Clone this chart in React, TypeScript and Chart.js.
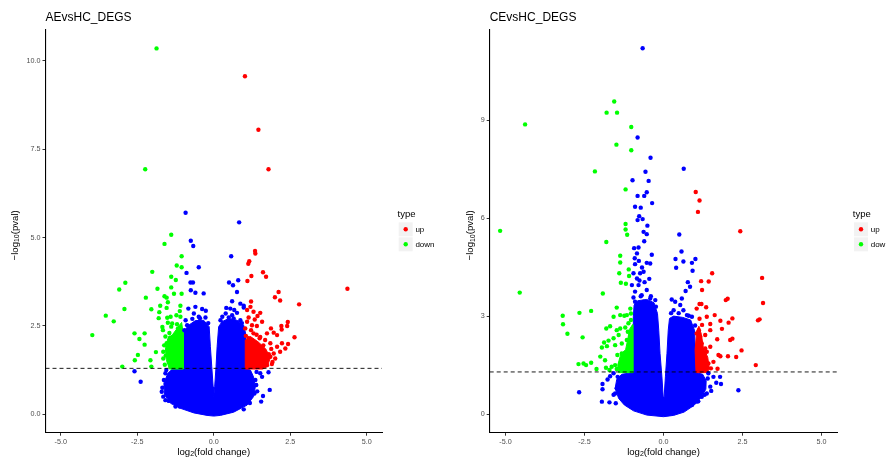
import React, { useEffect, useRef } from "react";
import { Chart, registerables } from "chart.js";
Chart.register(...registerables);

type Pt = [number, number];

// ---------- axes ----------
const X_MIN = -5.5;
const X_MAX = 5.5;
const X_TICKS = [-5, -2.5, 0, 2.5, 5];
const X_TICK_LABELS = ["-5.0", "-2.5", "0.0", "2.5", "5.0"];
const AE_Y_RANGE = [-0.52, 10.87];
const AE_Y_TICKS = [0, 2.5, 5, 7.5, 10];
const AE_Y_TICK_LABELS = ["0.0", "2.5", "5.0", "7.5", "10.0"];
const CE_Y_RANGE = [-0.56, 11.77];
const CE_Y_TICKS = [0, 3, 6, 9];
const CE_Y_TICK_LABELS = ["0", "3", "6", "9"];
const P_CUTOFF_LINE = 1.3; // -log10(0.05)
const LEGEND_TITLE = "type";
const LEGEND_LABELS = ["up", "down"];

// ---------- AEvsHC ----------
const AE_UP: Pt[] = [
  [1.02, 9.56], [1.46, 8.05], [1.79, 6.93], [4.37, 3.55],
  [1.35, 4.62], [1.36, 4.55], [1.16, 4.33], [1.13, 4.26], [1.61, 4.02], [1.71, 3.89],
  [1.23, 3.91], [1.10, 3.77], [2.12, 3.46], [2.00, 3.31], [2.17, 3.22], [2.79, 3.11],
  [1.22, 3.19], [1.20, 3.04], [1.09, 2.95], [1.30, 2.90], [1.52, 2.87], [1.43, 2.78],
  [1.14, 2.74], [1.34, 2.68], [1.09, 2.62], [1.58, 2.62], [1.25, 2.52], [1.41, 2.50],
  [1.03, 2.43], [2.42, 2.61], [2.40, 2.50], [2.21, 2.50], [2.22, 2.40], [1.87, 2.43],
  [1.96, 2.31], [2.07, 2.24], [1.74, 2.29], [2.64, 2.18], [2.43, 1.99], [2.23, 2.01],
  [2.07, 1.91], [1.85, 2.01], [1.68, 2.10], [1.52, 2.19], [1.30, 2.29], [1.14, 2.15],
  [1.65, 1.53], [1.85, 1.63], [1.96, 1.72], [1.74, 1.39], [1.52, 1.35], [2.01, 1.58],
  [1.90, 1.42], [2.17, 1.77], [2.34, 1.86], [1.88, 1.85], [1.60, 1.80], [1.40, 2.25],
  [1.05, 2.22], [1.50, 2.15], [1.80, 1.70], [1.92, 1.48], [1.62, 1.95], [1.22, 2.38],
];
const AE_DOWN: Pt[] = [
  [-1.87, 10.35], [-2.24, 6.93],
  [-1.39, 5.08], [-1.61, 4.82], [-1.05, 4.47], [-1.21, 4.21], [-1.05, 4.16], [-2.01, 4.03],
  [-1.39, 3.89], [-1.24, 3.80], [-2.89, 3.72], [-3.09, 3.53], [-1.84, 3.55], [-1.39, 3.59],
  [-1.05, 3.41], [-1.30, 3.41], [-2.22, 3.30], [-1.61, 3.34], [-1.54, 3.30], [-1.50, 3.17],
  [-1.75, 3.07], [-1.09, 3.07], [-2.92, 2.98], [-2.04, 2.97], [-1.54, 3.01], [-1.11, 2.92],
  [-1.78, 2.89], [-3.53, 2.79], [-1.80, 2.72], [-1.52, 2.73], [-1.41, 2.76], [-1.22, 2.80],
  [-1.09, 2.76], [-3.27, 2.63], [-1.50, 2.59], [-1.36, 2.57], [-1.20, 2.55], [-1.39, 2.48],
  [-1.68, 2.47], [-1.66, 2.38], [-1.17, 2.43], [-3.97, 2.24], [-2.59, 2.29], [-2.26, 2.29],
  [-2.43, 2.13], [-2.26, 1.97], [-1.43, 2.17], [-1.30, 2.15], [-1.16, 2.18], [-1.09, 2.10],
  [-1.54, 2.01], [-1.36, 2.02], [-1.20, 1.98], [-1.65, 1.77], [-1.50, 1.80], [-1.28, 1.82],
  [-1.09, 1.72], [-1.57, 1.66], [-1.41, 1.65], [-1.20, 1.63], [-1.89, 1.76], [-2.07, 1.53],
  [-2.48, 1.68], [-2.58, 1.53], [-1.65, 1.58], [-2.04, 1.35], [-2.99, 1.35], [-1.47, 1.49],
  [-1.30, 1.44], [-1.14, 1.42], [-1.41, 1.37], [-1.60, 1.40], [-1.62, 1.95], [-1.45, 2.30],
  [-1.58, 2.20],
];
const AE_NS: Pt[] = [
  [-0.92, 5.70], [0.83, 5.43], [-0.75, 4.91], [-0.67, 4.76], [0.57, 4.47], [-0.49, 4.16],
  [-0.89, 4.00], [-0.76, 3.73], [-0.68, 3.73], [0.80, 3.79], [0.50, 3.73], [0.63, 3.65],
  [-0.75, 3.51], [-0.60, 3.44], [-0.33, 3.42], [0.76, 3.46], [0.60, 3.20], [0.87, 3.13],
  [0.98, 3.07], [-0.83, 2.99], [-0.60, 3.04], [-0.38, 2.98], [-0.26, 2.93], [-0.65, 2.85],
  [-0.49, 2.76], [-0.27, 2.74], [0.41, 3.01], [0.54, 2.99], [0.67, 2.95], [0.76, 2.87],
  [0.98, 3.02], [0.39, 2.85], [0.49, 2.74], [0.65, 2.71], [0.87, 2.66], [0.22, 2.66],
  [0.33, 2.52], [-0.92, 2.66], [-0.87, 2.52], [-0.96, 2.38], [-0.32, 2.43],
  [-0.70, 2.70], [-0.45, 2.72], [-0.18, 2.58], [0.28, 2.76], [0.60, 2.80], [0.92, 2.58],
  [-2.59, 1.22], [-2.39, 0.92], [-1.70, 0.64], [-1.65, 0.50], [-1.58, 0.40], [-1.47, 0.38],
  [-1.63, 0.97], [-1.54, 0.83], [-1.50, 0.69], [-1.41, 0.55], [-1.30, 0.59], [-1.11, 0.22],
  [-1.58, 1.16], [-1.47, 1.06], [1.55, 0.36], [1.83, 0.69], [1.61, 0.52], [1.79, 1.19],
  [1.52, 1.16], [1.58, 1.06], [1.39, 0.83], [1.33, 0.59], [0.98, 0.14], [1.36, 0.97],
  [-1.68, 0.75], [-1.55, 1.25], [-1.25, 0.22], [1.40, 1.20], [1.42, 0.65], [1.18, 0.32],
];
// outlines of the densely packed (overplotted) regions
const AE_NS_CORE: Pt[] = [
  [-0.98, 2.34], [-0.82, 2.52], [-0.60, 2.65], [-0.33, 2.66], [-0.15, 2.48], [-0.11, 1.91],
  [-0.065, 1.35], [-0.02, 0.78], [0, 0.5], [0.03, 0.78], [0.075, 1.35], [0.11, 1.91],
  [0.16, 2.48], [0.27, 2.62], [0.49, 2.71], [0.76, 2.66], [0.98, 2.52], [1.04, 2.29],
  [1.04, 1.82], [1.03, 1.30], [1.20, 1.25], [1.30, 1.06], [1.36, 0.78], [1.30, 0.50],
  [1.09, 0.26], [0.65, 0.06], [0.22, -0.03], [0, -0.05], [-0.22, -0.03], [-0.65, 0.04],
  [-1.09, 0.17], [-1.41, 0.31], [-1.61, 0.55], [-1.63, 0.88], [-1.50, 1.16], [-1.33, 1.30],
  [-1.03, 1.30], [-1.0, 1.82],
];
const AE_DOWN_CORE: Pt[] = [
  [-1.0, 1.28], [-1.45, 1.28], [-1.55, 1.55], [-1.58, 1.85], [-1.5, 2.15], [-1.35, 2.25],
  [-1.18, 2.45], [-1.05, 2.6], [-1.0, 2.3],
];
const AE_UP_CORE: Pt[] = [
  [1.03, 1.28], [1.03, 2.1], [1.2, 2.2], [1.45, 2.05], [1.7, 1.85], [1.85, 1.6],
  [1.75, 1.35], [1.6, 1.28],
];

// ---------- CEvsHC ----------
const CE_UP: Pt[] = [
  [1.02, 6.81], [1.14, 6.55], [1.09, 6.20], [2.43, 5.61], [1.54, 4.32], [1.19, 4.08],
  [1.43, 4.07], [3.12, 4.18], [1.22, 3.81], [2.03, 3.54], [1.97, 3.50], [3.15, 3.41],
  [1.14, 3.38], [1.20, 3.38], [1.05, 3.24], [1.35, 3.28], [1.62, 3.04], [1.80, 2.87],
  [2.18, 2.94], [2.06, 2.81], [3.04, 2.91], [2.99, 2.88], [1.37, 2.99], [1.14, 2.93],
  [1.22, 2.74], [1.48, 2.77], [1.85, 2.62], [1.05, 2.48], [1.16, 2.38], [1.32, 2.43],
  [1.12, 2.58], [1.48, 2.58], [1.70, 2.30], [2.18, 2.32], [2.11, 2.28], [1.21, 2.17],
  [1.32, 2.02], [1.48, 2.07], [2.47, 1.96], [1.74, 1.82], [1.80, 1.78], [2.04, 1.78],
  [2.30, 1.76], [1.37, 1.92], [1.11, 1.87], [1.16, 1.77], [2.92, 1.51], [1.71, 1.40],
  [1.27, 1.66], [1.42, 1.56], [1.50, 1.41], [1.32, 1.36], [1.58, 1.61],
];
const CE_DOWN: Pt[] = [
  [-1.56, 9.58], [-1.80, 9.24], [-1.47, 9.24], [-4.38, 8.88], [-1.02, 8.80], [-1.49, 8.26],
  [-1.02, 8.09], [-2.17, 7.44], [-1.20, 6.89], [-1.20, 5.83], [-5.17, 5.62], [-1.20, 5.66],
  [-1.15, 5.50], [-1.81, 5.28], [-1.37, 4.86], [-1.37, 4.65], [-1.10, 4.44], [-1.40, 4.32],
  [-1.09, 4.24], [-1.35, 4.03], [-1.19, 4.00], [-4.55, 3.73], [-1.92, 3.70], [-2.66, 3.11],
  [-2.29, 3.17], [-3.19, 3.02], [-3.18, 2.76], [-3.04, 2.47], [-2.56, 2.36], [-1.48, 3.27],
  [-1.58, 2.99], [-1.37, 3.04], [-1.24, 3.02], [-1.16, 3.04], [-1.05, 3.24], [-1.03, 3.09],
  [-1.81, 2.63], [-1.69, 2.70], [-1.48, 2.58], [-1.37, 2.63], [-1.21, 2.66], [-1.13, 2.53],
  [-1.42, 2.43], [-1.58, 2.33], [-1.74, 2.26], [-1.88, 2.20], [-1.95, 2.05], [-1.79, 2.09],
  [-1.53, 2.12], [-1.32, 2.17], [-1.16, 2.28], [-1.05, 2.38], [-2.00, 1.77], [-1.85, 1.66],
  [-1.64, 1.46], [-1.71, 1.36], [-1.53, 1.51], [-1.37, 1.56], [-1.46, 1.82], [-1.32, 1.87],
  [-1.21, 1.77], [-1.16, 1.61], [-1.27, 1.41], [-1.48, 1.39], [-2.69, 1.54], [-2.53, 1.56],
  [-2.45, 1.51], [-2.29, 1.58], [-2.12, 1.39], [-1.82, 1.43], [-1.11, 1.92], [-1.05, 2.07],
  [-1.03, 2.89], [-1.11, 2.79],
];
const CE_NS: Pt[] = [
  [-0.66, 11.21], [-0.82, 8.48], [-0.41, 7.86], [0.64, 7.52], [-0.57, 7.43], [-0.98, 7.17],
  [-0.47, 7.15], [-0.82, 6.69], [-0.61, 6.69], [-0.53, 6.80], [-0.36, 6.47], [-0.90, 6.36],
  [-0.72, 6.33], [-0.77, 6.07], [-0.82, 5.95], [-0.66, 5.98], [-0.51, 5.78], [-0.63, 5.59],
  [-0.53, 5.52], [-0.61, 5.30], [0.50, 5.51], [-0.79, 5.11], [-0.93, 5.09], [-0.84, 4.93],
  [-0.37, 4.89], [-0.91, 4.78], [-0.53, 4.64], [-0.42, 4.62], [-0.90, 4.60], [0.57, 4.99],
  [0.38, 4.76], [0.63, 4.68], [0.90, 4.64], [1.01, 4.76], [0.40, 4.49], [0.92, 4.40],
  [-0.95, 4.32], [-0.74, 4.32], [-0.63, 4.37], [-0.84, 4.16], [-1.00, 3.96], [-0.79, 3.96],
  [-0.53, 3.81], [-0.90, 3.76], [-0.69, 3.65], [-0.42, 3.55], [-0.90, 3.45], [-0.63, 3.45],
  [-0.26, 3.50], [-0.74, 3.30], [-0.53, 3.24], [-0.32, 3.19], [-0.76, 4.10], [-0.60, 4.05],
  [-0.45, 4.15], [-0.68, 4.50], [-0.78, 4.70],
  [-0.95, 3.58], [-0.72, 3.62], [-0.40, 3.62], [-0.24, 3.30],
  [0.77, 4.05], [0.84, 3.91], [0.70, 3.78], [0.58, 3.55], [0.26, 3.52], [0.37, 3.45],
  [0.53, 3.35], [0.63, 3.19], [0.32, 3.19], [0.74, 3.04], [0.90, 2.99],
  [0.24, 3.10], [0.48, 3.10], [0.80, 3.02], [1.00, 2.72],
  [-2.67, 0.68], [2.37, 0.74], [-1.93, 0.93], [-1.93, 0.77], [-1.77, 1.07], [-1.69, 1.17],
  [-1.58, 1.26], [-1.95, 0.39], [-1.71, 0.37], [-1.51, 0.34], [-1.53, 0.64], [-1.48, 0.80],
  [-1.37, 1.05], [-1.16, 0.34], [-1.00, 0.23], [1.79, 1.15], [1.82, 0.93], [1.67, 0.97],
  [1.48, 0.85], [1.51, 0.72], [1.37, 0.64], [1.21, 0.54], [1.05, 0.39], [0.90, 0.29],
  [1.14, 1.15], [1.27, 0.95], [1.58, 1.15], [1.42, 1.26],
  [-1.58, 0.60], [-1.45, 1.15], [1.40, 1.10], [1.30, 0.60], [1.10, 0.40],
];
const CE_NS_CORE: Pt[] = [
  [0, -0.07], [-0.53, -0.02], [-0.95, 0.11], [-1.24, 0.29], [-1.42, 0.49], [-1.53, 0.80],
  [-1.48, 1.07], [-1.32, 1.23], [-0.97, 1.28], [-0.96, 1.87], [-0.96, 2.58], [-0.95, 2.99],
  [-0.93, 3.35], [-0.82, 3.48], [-0.53, 3.52], [-0.30, 3.42], [-0.19, 3.09], [-0.15, 2.58],
  [-0.11, 1.87], [-0.05, 1.15], [-0.01, 0.54], [0, 0.39], [0.02, 0.54], [0.06, 1.15],
  [0.11, 1.87], [0.15, 2.58], [0.19, 2.94], [0.32, 3.01], [0.61, 2.97], [0.86, 2.89],
  [0.98, 2.58], [1.01, 1.87], [1.03, 1.28], [1.24, 1.23], [1.35, 1.03], [1.34, 0.77],
  [1.19, 0.52], [0.97, 0.28], [0.65, 0.07], [0.32, -0.03],
];
const CE_DOWN_CORE: Pt[] = [
  [-0.97, 1.28], [-1.42, 1.28], [-1.45, 1.5], [-1.35, 1.85], [-1.2, 1.98], [-1.13, 2.3],
  [-1.08, 2.6], [-0.98, 2.75], [-0.97, 2.0],
];
const CE_UP_CORE: Pt[] = [
  [1.03, 1.28], [1.0, 1.97], [1.05, 2.55], [1.12, 2.7], [1.2, 2.45], [1.26, 2.05],
  [1.4, 1.75], [1.45, 1.4], [1.38, 1.28],
];

const BLUE = "#0000FF";
const RED = "#FF0000";
const GREEN = "#00FF00";
const FONT = "'Liberation Sans', Arial, sans-serif";

type PanelProps = {
  title: string;
  up: Pt[]; down: Pt[]; ns: Pt[];
  upCore: Pt[]; downCore: Pt[]; nsCore: Pt[];
  yRange: number[]; yTicks: number[]; yTickLabels: string[];
  yAxisWidth: number; rightPad: number; yTitleX: number; left: number;
};

function drawRich(ctx: CanvasRenderingContext2D, parts: [string, number, number][], cx: number, cy: number) {
  let total = 0;
  for (const [t, s] of parts) { ctx.font = `${s}px ${FONT}`; total += ctx.measureText(t).width; }
  let x = cx - total / 2;
  ctx.textAlign = "left";
  ctx.textBaseline = "middle";
  for (const [t, s, dy] of parts) {
    ctx.font = `${s}px ${FONT}`;
    ctx.fillText(t, x, cy + dy);
    x += ctx.measureText(t).width;
  }
}

function Panel(p: PanelProps) {
  const ref = useRef<HTMLCanvasElement>(null);
  useEffect(() => {
    const canvas = ref.current!;
    const pts = (a: Pt[]) => a.map(([x, y]) => ({ x, y }));
    const poly = (a: Pt[], c: string) => ({
      type: "line", data: pts([...a, a[0]]), fill: "shape", backgroundColor: c,
      borderColor: c, borderWidth: 1, pointRadius: 0, pointHoverRadius: 0, tension: 0,
    });
    const scat = (a: Pt[], c: string) => ({
      type: "scatter", data: pts(a), backgroundColor: c, pointBackgroundColor: c,
      borderWidth: 0, pointBorderWidth: 0, pointRadius: 2.2, pointHoverRadius: 2.2,
    });
    const overlay = {
      id: "overlay",
      afterDraw(chart: any) {
        const ctx = chart.ctx as CanvasRenderingContext2D;
        const a = chart.chartArea;
        ctx.save();
        ctx.fillStyle = "#000";
        ctx.font = `12px ${FONT}`;
        ctx.textAlign = "left";
        ctx.textBaseline = "middle";
        ctx.fillText(p.title, a.left, 18);
        // x title
        drawRich(ctx, [["log", 9.6, 0], ["2", 7, 2.5], ["(fold change)", 9.6, 0]], (a.left + a.right) / 2, 452);
        // y title
        ctx.save();
        ctx.translate(p.yTitleX, (a.top + a.bottom) / 2 + 4);
        ctx.rotate(-Math.PI / 2);
        drawRich(ctx, [["\u2212log", 9.6, 0], ["10", 7, 2.5], ["(pval)", 9.6, 0]], 0, 0);
        ctx.restore();
        // legend
        const lx = a.right;
        ctx.font = `9.5px ${FONT}`;
        ctx.textAlign = "left";
        ctx.textBaseline = "middle";
        ctx.fillText(LEGEND_TITLE, lx + 15.5, 214);
        const cols = [RED, GREEN];
        LEGEND_LABELS.forEach((lab, i) => {
          const cy = 229.3 + i * 15;
          ctx.fillStyle = "#F2F2F2";
          ctx.fillRect(lx + 16.7, cy - 7, 14, 14);
          ctx.fillStyle = cols[i];
          ctx.beginPath();
          ctx.arc(lx + 23.7, cy, 2.2, 0, Math.PI * 2);
          ctx.fill();
          ctx.fillStyle = "#000";
          ctx.font = `8px ${FONT}`;
          ctx.fillText(lab, lx + 33.4, cy);
        });
        ctx.restore();
      },
    };
    const chart = new Chart(canvas, {
      type: "scatter",
      data: {
        datasets: [
          {
            type: "line", data: [{ x: X_MIN, y: P_CUTOFF_LINE }, { x: X_MAX, y: P_CUTOFF_LINE }],
            borderColor: "#000", borderWidth: 0.9, borderDash: [4, 3], pointRadius: 0, fill: false,
          },
          scat(p.up, RED),
          scat(p.down, GREEN),
          scat(p.ns, BLUE),
          poly(p.upCore, RED),
          poly(p.downCore, GREEN),
          poly(p.nsCore, BLUE),
        ] as any,
      },
      options: {
        responsive: false,
        animation: false,
        devicePixelRatio: 1,
        events: [],
        layout: { padding: { left: 0, top: 30, right: p.rightPad, bottom: 0 } },
        plugins: { legend: { display: false }, tooltip: { enabled: false }, title: { display: false } },
        scales: {
          x: {
            type: "linear", min: X_MIN, max: X_MAX,
            afterBuildTicks: (s: any) => { s.ticks = X_TICKS.map((v) => ({ value: v })); },
            afterFit: (s: any) => { s.height = 26.3; },
            ticks: {
              callback: (_v: any, i: number) => X_TICK_LABELS[i],
              color: "#4D4D4D", font: { size: 7.2, family: FONT }, padding: 2,
              maxRotation: 0, autoSkip: false,
            },
            grid: { drawOnChartArea: false, drawTicks: true, tickLength: 3, tickColor: "#333333", tickWidth: 1 },
            border: { display: true, color: "#000", width: 1.1 },
          },
          y: {
            type: "linear", min: p.yRange[0], max: p.yRange[1],
            afterBuildTicks: (s: any) => { s.ticks = p.yTicks.map((v) => ({ value: v })); },
            afterFit: (s: any) => { s.width = p.yAxisWidth; },
            ticks: {
              callback: (_v: any, i: number) => p.yTickLabels[i],
              color: "#4D4D4D", font: { size: 7.2, family: FONT }, padding: 2, autoSkip: false,
            },
            grid: { drawOnChartArea: false, drawTicks: true, tickLength: 3, tickColor: "#333333", tickWidth: 1 },
            border: { display: true, color: "#000", width: 1.1 },
          },
        },
      } as any,
      plugins: [overlay],
    });
    return () => chart.destroy();
  }, []);
  return (
    <canvas
      ref={ref}
      width={443}
      height={459}
      style={{ position: "absolute", left: p.left, top: 0, width: 443, height: 459 }}
    />
  );
}

export default function App() {
  return (
    <div style={{ position: "fixed", left: 0, top: 0, width: 886, height: 459, background: "#fff", overflow: "hidden" }}>
      <Panel
        title="AEvsHC_DEGS" up={AE_UP} down={AE_DOWN} ns={AE_NS}
        upCore={AE_UP_CORE} downCore={AE_DOWN_CORE} nsCore={AE_NS_CORE}
        yRange={AE_Y_RANGE} yTicks={AE_Y_TICKS} yTickLabels={AE_Y_TICK_LABELS}
        yAxisWidth={45.5} rightPad={61} yTitleX={15} left={0}
      />
      <Panel
        title="CEvsHC_DEGS" up={CE_UP} down={CE_DOWN} ns={CE_NS}
        upCore={CE_UP_CORE} downCore={CE_DOWN_CORE} nsCore={CE_NS_CORE}
        yRange={CE_Y_RANGE} yTicks={CE_Y_TICKS} yTickLabels={CE_Y_TICK_LABELS}
        yAxisWidth={46.7} rightPad={48.7} yTitleX={27.3} left={443}
      />
    </div>
  );
}
